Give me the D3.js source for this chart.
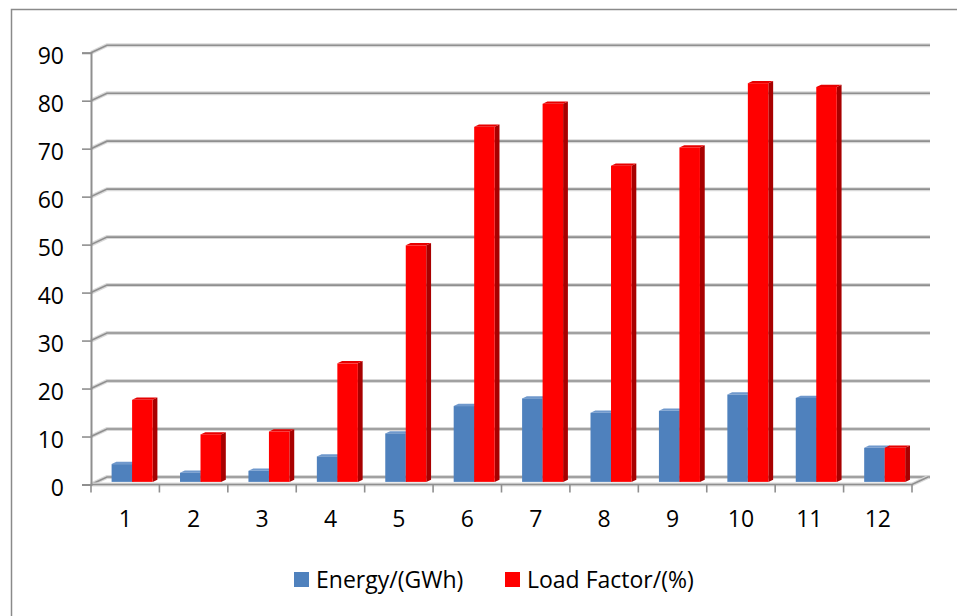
<!DOCTYPE html>
<html>
<head>
<meta charset="utf-8">
<script src="https://cdn.jsdelivr.net/npm/d3@7"></script>
<style>
  body { margin: 0; background: #fff; }
  text { font-family: "Open Sans", sans-serif; fill: #000; }
</style>
</head>
<body>
<div id="chart"></div>
<script>
var svgWidth = 957;
var svgHeight = 616;

// chart data
var months = ["1", "2", "3", "4", "5", "6", "7", "8", "9", "10", "11", "12"];
var energy = [3.7, 1.9, 2.3, 5.3, 10.1, 15.8, 17.4, 14.4, 14.8, 18.2, 17.5, 7.1];
var loadFactor = [17.1, 9.9, 10.5, 24.7, 49.3, 74.0, 78.8, 65.9, 69.7, 83.1, 82.3, 7.1];
var yTicks = [0, 10, 20, 30, 40, 50, 60, 70, 80, 90];
var seriesNames = ["Energy/(GWh)", "Load Factor/(%)"];

// 3d look: depth offset for the back wall
var depthX = 16;
var depthY = -7.5;

var svg = d3.select("#chart")
  .append("svg")
  .attr("width", svgWidth)
  .attr("height", svgHeight);

// outer frame (only top and left edges show)
svg.append("path")
  .attr("d", "M11.5,616 L11.5,9.5 L957,9.5")
  .attr("fill", "none")
  .attr("stroke", "#8a8a8a")
  .attr("stroke-width", 1.5);

var xScale = d3.scaleBand()
  .domain(months)
  .range([91, 912]);

var yScale = d3.scaleLinear()
  .domain([0, 90])
  .range([484.5, 52.7]);

// project a point at depth z (0 = front, 1 = back)
function px(x, z) { return x + depthX * z; }
function py(y, z) { return y + depthY * z; }

var grid = svg.append("g");

// gridlines: left wall diagonal + back wall line
yTicks.forEach(function(t) {
  var y = yScale(t);
  var d = "M" + xScale.range()[0] + "," + y +
    " L" + px(xScale.range()[0], 1) + "," + py(y, 1) +
    " L" + (930) + "," + py(y, 1);
  grid.append("path").attr("d", d)
    .attr("fill", "none").attr("stroke", "#d9d9d9").attr("stroke-width", 4);
  grid.append("path").attr("d", d)
    .attr("fill", "none").attr("stroke", "#8f8f8f").attr("stroke-width", 1.6);
});

// floor edges
var x0 = xScale.range()[0], x1 = xScale.range()[1];
var floorPath = "M" + x0 + "," + yScale(0) + " L" + x1 + "," + yScale(0) +
  " L" + px(x1, 1) + "," + py(yScale(0), 1);
grid.append("path").attr("d", floorPath)
  .attr("fill", "none").attr("stroke", "#d9d9d9").attr("stroke-width", 4);
grid.append("path").attr("d", floorPath)
  .attr("fill", "none").attr("stroke", "#8f8f8f").attr("stroke-width", 1.6);

// y axis
var leftAxis = d3.axisLeft(yScale)
  .tickValues(yTicks)
  .tickSize(9)
  .tickPadding(18);

var yAxis = svg.append("g")
  .attr("transform", "translate(" + x0 + ",0)")
  .call(leftAxis);
yAxis.select(".domain").attr("stroke", "#8f8f8f").attr("stroke-width", 2);
yAxis.selectAll(".tick line").attr("stroke", "#8f8f8f").attr("stroke-width", 1.6);
yAxis.selectAll(".tick text")
  .attr("font-size", 23)
  .attr("font-family", "Open Sans")
  .attr("fill", "#000")
  .attr("dy", "0.48em");

// x axis (ticks between categories)
var bottomAxis = d3.axisBottom(xScale)
  .tickSize(0)
  .tickPadding(26);

var xAxis = svg.append("g")
  .attr("transform", "translate(0," + yScale(0) + ")")
  .call(bottomAxis);
xAxis.select(".domain").remove();
xAxis.selectAll(".tick text")
  .attr("font-size", 23)
  .attr("font-family", "Open Sans")
  .attr("fill", "#000");

var boundaries = months.map(function(m) { return xScale(m); }).concat([x1]);
svg.append("g").selectAll("line")
  .data(boundaries)
  .enter()
  .append("line")
  .attr("x1", d => d).attr("x2", d => d)
  .attr("y1", yScale(0)).attr("y2", yScale(0) + 8)
  .attr("stroke", "#8f8f8f")
  .attr("stroke-width", 1.6);

// bars
var barW = 20.5;
var zFront = 0.35;
var zBack = 0.65;
var barOffset = 15;

var series = [
  { values: energy, front: "#4f81bd", side: "#385d8a", top: "#6f98cc", shift: 0 },
  { values: loadFactor, front: "#ff0000", side: "#a80000", top: "#e60000", shift: barW }
];

var bars = svg.append("g");

months.forEach(function(m, i) {
  series.forEach(function(s) {
    var v = s.values[i];
    var left = xScale(m) + barOffset + s.shift;
    var right = left + barW;
    var yb = yScale(0);
    var yt = yScale(v);
    var fl = px(left, zFront), fr = px(right, zFront);
    var fb = py(yb, zFront), ft = py(yt, zFront);
    var br = px(right, zBack), bl = px(left, zBack);
    var bb = py(yb, zBack), bt = py(yt, zBack);

    var g = bars.append("g");
    // side face
    g.append("path")
      .attr("d", "M" + fr + "," + fb + " L" + br + "," + bb + " L" + br + "," + bt + " L" + fr + "," + ft + "Z")
      .attr("fill", s.side);
    // top face
    g.append("path")
      .attr("d", "M" + fl + "," + ft + " L" + fr + "," + ft + " L" + br + "," + bt + " L" + bl + "," + bt + "Z")
      .attr("fill", s.top);
    // front face
    g.append("rect")
      .attr("x", fl)
      .attr("y", ft)
      .attr("width", barW)
      .attr("height", fb - ft)
      .attr("fill", s.front);
  });
});

// legend
var legend = svg.append("g");
var legendX = [294, 505];
seriesNames.forEach(function(name, i) {
  legend.append("rect")
    .attr("x", legendX[i])
    .attr("y", 572)
    .attr("width", 15)
    .attr("height", 15)
    .attr("fill", series[i].front);
  legend.append("text")
    .attr("x", legendX[i] + 22)
    .attr("y", 588)
    .attr("font-size", 23)
    .text(name);
});
</script>
</body>
</html>
